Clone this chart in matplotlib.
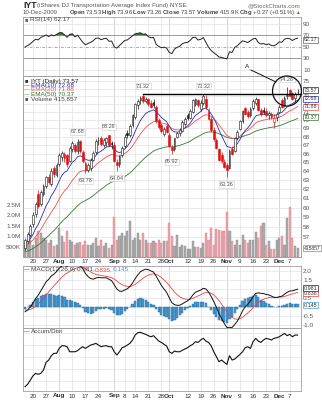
import numpy as np
import matplotlib
matplotlib.use("Agg")
import matplotlib.pyplot as plt
from matplotlib.patches import Ellipse
from matplotlib.lines import Line2D

plt.rcParams['font.family'] = ['Liberation Sans', 'DejaVu Sans']
plt.rcParams['mathtext.fontset'] = 'custom'
plt.rcParams['mathtext.rm'] = 'Liberation Sans'
plt.rcParams['mathtext.bf'] = 'Liberation Sans:bold'
plt.rcParams['mathtext.it'] = 'Liberation Sans:italic'

# daily bars, 15-Jul-2009 .. 10-Dec-2009 (trading days)
opens = [55.9, 56.6, 57.2, 58.3, 59.4, 61.5, 60.4, 61.5, 62.4, 63.4,
         62.6, 64.4, 63.6, 64.8, 65.6, 66.0, 65.8, 65.2, 66.6, 67.0,
         66.3, 67.5, 66.2, 64.9, 64.1, 64.3, 65.3, 66.2, 67.6, 67.8,
         67.0, 67.4, 68.2, 67.3, 67.0, 65.0, 64.8, 65.8, 66.9, 68.5,
         68.2, 69.4, 70.4, 71.9, 72.5, 73.1, 72.4, 72.6, 72.2, 72.3,
         71.6, 70.0, 69.4, 68.3, 69.3, 68.2, 66.8, 66.5, 68.0, 68.4,
         68.7, 69.5, 70.6, 70.3, 71.0, 72.0, 72.5, 71.4, 72.1, 72.7,
         71.2, 70.2, 68.8, 67.6, 66.5, 65.9, 65.0, 64.7, 64.3, 66.6,
         66.3, 67.9, 68.9, 69.9, 71.5, 71.0, 70.6, 71.5, 72.2, 72.6,
         71.3, 71.3, 71.2, 70.6, 70.8, 69.8, 70.4, 71.0, 72.5, 71.9,
         73.0, 73.8, 73.4, 72.8, 73.53]
highs = [56.9, 57.5, 58.3, 59.6, 60.6, 61.9, 61.9, 62.6, 63.5, 63.7,
         64.3, 64.6, 64.9, 66.1, 66.3, 66.2, 66.0, 66.9, 67.5, 67.2,
         67.68, 67.6, 66.4, 65.1, 64.9, 65.5, 66.3, 67.7, 68.0, 68.1,
         67.9, 68.0, 68.26, 67.5, 67.4, 65.4, 65.9, 66.9, 68.3, 68.8,
         69.5, 70.8, 72.2, 72.6, 73.0, 73.32, 72.9, 72.8, 72.5, 72.6,
         71.9, 70.3, 69.7, 69.2, 69.5, 68.4, 67.0, 67.9, 68.6, 69.0,
         70.0, 70.4, 70.9, 71.4, 72.7, 72.8, 72.7, 72.5, 73.32, 73.2,
         71.5, 70.4, 69.2, 67.9, 66.7, 66.2, 65.4, 64.9, 66.5, 66.9,
         68.0, 68.8, 70.0, 71.3, 71.7, 71.3, 71.6, 72.7, 72.9, 72.7,
         71.5, 71.6, 71.5, 71.2, 71.0, 70.8, 71.0, 71.9, 72.8, 73.0,
         74.26, 74.0, 73.5, 73.5, 73.96]
lows = [55.7, 56.4, 57.0, 58.0, 59.0, 60.0, 60.2, 61.3, 62.1, 62.6,
        62.4, 63.4, 63.3, 64.6, 65.2, 65.0, 64.5, 65.0, 66.2, 66.1,
        66.0, 66.1, 64.9, 63.78, 63.9, 64.0, 65.1, 66.0, 67.0, 66.9,
        66.8, 66.9, 66.9, 66.5, 65.0, 64.04, 64.5, 65.6, 66.7, 67.9,
        68.0, 69.2, 70.2, 71.4, 72.0, 72.2, 72.1, 71.8, 71.5, 71.5,
        69.7, 68.9, 68.4, 68.1, 68.4, 66.8, 65.92, 66.3, 67.8, 68.1,
        68.6, 69.3, 70.0, 70.1, 70.9, 71.8, 71.7, 71.2, 71.9, 71.4,
        70.0, 68.6, 67.5, 66.6, 65.2, 64.9, 64.4, 63.36, 64.2, 65.8,
        66.2, 67.6, 68.8, 69.7, 70.6, 70.3, 70.4, 71.3, 71.9, 71.1,
        70.5, 70.8, 70.4, 70.1, 70.2, 69.0, 69.9, 70.9, 71.5, 71.7,
        72.6, 73.0, 72.5, 72.3, 73.26]
closes = [56.7, 57.3, 58.1, 59.3, 60.4, 60.2, 61.7, 62.4, 63.3, 62.8,
          64.0, 63.7, 64.7, 65.9, 66.1, 65.5, 64.8, 66.7, 67.2, 66.3,
          67.4, 66.3, 65.1, 64.1, 64.7, 65.3, 66.1, 67.5, 67.6, 67.1,
          67.6, 67.9, 67.0, 67.1, 65.2, 64.7, 65.7, 66.7, 68.0, 68.2,
          69.3, 70.6, 72.0, 72.4, 72.8, 72.4, 72.7, 72.0, 71.7, 71.9,
          69.9, 69.2, 68.7, 68.9, 68.6, 66.9, 66.4, 67.8, 68.4, 68.8,
          69.8, 70.2, 70.3, 71.1, 72.5, 72.6, 71.9, 72.2, 73.0, 71.7,
          70.1, 68.8, 67.7, 66.7, 65.3, 65.1, 64.5, 64.1, 66.3, 66.0,
          67.9, 68.6, 69.9, 71.1, 70.8, 70.5, 71.4, 72.4, 72.7, 71.3,
          70.8, 71.0, 70.6, 70.9, 70.4, 70.3, 70.8, 71.7, 71.6, 72.8,
          73.2, 73.1, 72.7, 73.30, 73.57]
volumes_k = [600, 690, 830, 600, 930, 1230, 1160, 930, 830, 690,
             830, 550, 600, 1400, 1000, 700, 1260, 830, 700, 600,
             690, 700, 600, 760, 600, 600, 690, 930, 550, 830,
             550, 690, 450, 600, 1940, 830, 1000, 1160, 1000, 1230,
             1750, 830, 930, 1160, 830, 1160, 830, 690, 690, 760,
             690, 830, 690, 760, 760, 1640, 1020, 550, 1070, 480,
             600, 550, 400, 400, 760, 480, 480, 450, 690, 1160,
             830, 1400, 600, 1350, 1300, 1260, 1260, 2180, 1260, 760,
             600, 830, 600, 1070, 830, 690, 830, 830, 1220, 930,
             1500, 1640, 600, 760, 400, 400, 830, 930, 1000, 600,
             1880, 2400, 930, 550, 416]
accum_dist = [0.53, 0.75, 1.08, 1.44, 1.64, 1.56, 1.64, 1.92, 2.56, 2.75,
              3.11, 3.31, 3.31, 3.72, 3.94, 3.94, 3.86, 3.44, 3.44, 3.44,
              3.53, 3.72, 3.86, 3.72, 3.86, 4.00, 4.06, 4.14, 4.00, 3.86,
              3.92, 3.94, 3.86, 3.86, 3.44, 3.17, 3.44, 3.78, 3.86, 4.00,
              4.14, 4.42, 4.83, 5.03, 5.06, 4.97, 4.89, 4.78, 4.69, 4.78,
              4.56, 4.33, 4.22, 4.06, 3.92, 3.44, 3.31, 3.50, 3.44, 3.44,
              3.56, 3.67, 3.78, 3.94, 4.06, 4.28, 4.22, 4.42, 4.56, 4.33,
              4.22, 3.94, 3.44, 3.03, 2.61, 2.75, 2.56, 2.39, 3.11, 2.75,
              2.83, 3.03, 3.22, 3.44, 3.78, 3.86, 3.72, 4.28, 4.56, 4.33,
              4.22, 4.42, 4.56, 4.50, 4.42, 4.56, 4.61, 4.69, 4.83, 4.97,
              4.78, 4.89, 4.69, 4.83, 4.83]

# week / month labels (trading-day index)
tick_pos = [3, 8, 13, 18, 23, 28, 34, 38, 42, 47, 52, 55, 62, 67, 72, 77, 82, 87, 92, 97, 101]
tick_lbl = ['20', '27', 'Aug', '10', '17', '24', 'Sep', '8', '14', '21', '28', 'Oct',
            '12', '19', '26', 'Nov', '9', '16', '23', 'Dec', '7']
months = ['Aug', 'Sep', 'Oct', 'Nov', 'Dec']

# value tags from the chart
last_close, ema10_last, ema20_last, ema50_last = 73.57, 72.68, 71.88, 70.37
rsi_last = 62.17
macd_last, signal_last, hist_last = 0.981, 0.836, 0.145
vol_last = 415857
double_top = 73.32

o = np.array(opens, dtype=float)
h = np.array(highs, dtype=float)
lo = np.array(lows, dtype=float)
c = np.array(closes, dtype=float)
vol = np.array(volumes_k, dtype=float) * 1000.0
ad = np.array(accum_dist, dtype=float)
xs = np.arange(len(c), dtype=float)


def ema(vals, span, prev):
  k = 2.0 / (span + 1)
  out = []
  for v in vals:
    prev = prev + k * (v - prev)
    out.append(prev)
  return np.array(out)


def rsi(vals, n, ag, al):
  out = [100 * ag / (ag + al)]
  for i in range(1, len(vals)):
    d = float(vals[i] - vals[i - 1])
    ag = (ag * (n - 1) + max(d, 0.0)) / n
    al = (al * (n - 1) + max(-d, 0.0)) / n
    out.append(100 * ag / (ag + al))
  return np.array(out)


ema10 = ema(c, 10, 56.3)
ema20 = ema(c, 20, 56.1)
ema50 = ema(c, 50, 55.5)
macd = ema(c, 12, 56.0) - ema(c, 26, 56.35)
signal = ema(macd, 9, -0.15)
hist = macd - signal
rsi14 = rsi(c, 14, 0.45, 0.45)

prev_c = np.concatenate([[c[0] - 0.1], c[:-1]])
down = c < prev_c

fig = plt.figure(figsize=(3.22, 4.0), dpi=100)


def fx(px):
  return px / 322.0


def fy(px):
  return 1 - px / 400.0


L, R = 23, 301
W = fx(R - L)
XL = (-0.82, 105.3)
GRID = '#e2e2e2'
LBL = '#555555'
FS = 4.6


def panel(top, bottom):
  ax = fig.add_axes([fx(L), fy(bottom), W, (bottom - top) / 400.0])
  ax.set_xlim(*XL)
  ax.set_xticks([])
  for s in ax.spines.values():
    s.set_color('#a0a0a0')
    s.set_linewidth(0.6)
  ax.yaxis.tick_right()
  ax.tick_params(axis='y', length=0, pad=1.5, labelsize=FS, labelcolor=LBL)
  return ax


def overlay(top, bottom, ylim):
  ov = fig.add_axes([fx(L), fy(bottom), W, (bottom - top) / 400.0])
  ov.set_xlim(*XL)
  ov.set_ylim(*ylim)
  ov.patch.set_visible(False)
  ov.axis('off')
  return ov


def vgrid(ax):
  for p, t in zip(tick_pos, tick_lbl):
    ax.axvline(p, color='#c8c8c8' if t in months else GRID, lw=0.5, zorder=0)


def xlabels(ypx):
  for p, t in zip(tick_pos, tick_lbl):
    xp = fx(L) + (p - XL[0]) / (XL[1] - XL[0]) * W
    fig.text(xp, fy(ypx), t, ha='center', va='center', fontsize=FS, color='#333333',
             fontweight='bold' if t in months else 'normal')


def tag(ax, yv, txt, ec, size=3.9, z=10):
  ax.text(1.01, yv, txt, transform=ax.get_yaxis_transform(), fontsize=size, color='#333333',
          va='center', ha='left', zorder=z, clip_on=False,
          bbox=dict(boxstyle='square,pad=0.08', fc='white', ec=ec, lw=0.5))


# ---- RSI panel
RSI_LIM = (-0.5, 102)
ax_rsi = panel(17, 76)
ax_rsi.set_ylim(*RSI_LIM)
ax_rsi.set_yticks([10, 30, 50, 70, 90])
vgrid(ax_rsi)
for lv in (10, 90):
  ax_rsi.axhline(lv, color=GRID, lw=0.5, zorder=0)
ax_rsi.axhline(70, color='#8a8a8a', lw=0.6, zorder=1)
ax_rsi.axhline(30, color='#8a8a8a', lw=0.6, zorder=1)
ax_rsi.axhline(50, color='#8a8a8a', lw=0.5, ls=(0, (4, 2, 1, 2)), zorder=1)
tag(ax_rsi, rsi_last, '%.2f' % rsi_last, '#3f7a3f')

# ---- Accum/Dist panel
AD_LIM = (0.17, 5.42)
ax_ad = panel(328, 391)
ax_ad.set_ylim(*AD_LIM)
ax_ad.set_yticks([])
vgrid(ax_ad)
for lv in (1, 2, 3, 4, 5):
  ax_ad.axhline(lv, color=GRID, lw=0.5, zorder=0)

# ---- MACD panel
ax_macd = panel(266, 328)
ax_macd.set_ylim(-1.17, 2.28)
ax_macd.set_yticks([-1.0, -0.5, 0.0, 0.5, 1.0, 1.5, 2.0])
ax_macd.set_yticklabels(['-1.0', '-0.5', '', '0.5', '', '1.5', '2.0'])
vgrid(ax_macd)
for lv in np.arange(-1.0, 2.01, 0.5):
  ax_macd.axhline(lv, color=GRID, lw=0.5, zorder=0)
ax_macd.bar(xs, hist, width=0.85, color='#4a9bd4', edgecolor='#24648f', lw=0.3, zorder=2)
ax_macd.plot(xs, signal, color='#f04040', lw=0.6, zorder=3)
ax_macd.plot(xs, macd, color='#111111', lw=0.7, zorder=4)
tag(ax_macd, signal_last - 0.06, '%.3f' % signal_last, '#f04040', z=9)
tag(ax_macd, macd_last + 0.07, '%.3f' % macd_last, '#222222')
tag(ax_macd, hist_last - 0.05, '%.3f' % hist_last, '#4a9bd4')

# ---- price panel with volume overlay
ax_vol = panel(76, 257)
ax_vol.yaxis.tick_left()
ax_vol.tick_params(axis='y', length=0, pad=1.5, labelsize=FS, labelcolor=LBL)
ax_vol.set_ylim(0, 2.5e6 * 181.0 / 52.0)
ax_vol.set_yticks([5e5, 1e6, 1.5e6, 2e6, 2.5e6])
ax_vol.set_yticklabels(['500K', '1.0M', '1.5M', '2.0M', '2.5M'])
vgrid(ax_vol)

ax_px = panel(76, 257)
ax_px.patch.set_visible(False)
ax_px.set_yscale('log')
ax_px.set_ylim(55.03, 75.66)
px_ticks = list(range(57, 76))
ax_px.yaxis.set_major_locator(matplotlib.ticker.FixedLocator(px_ticks))
ax_px.yaxis.set_major_formatter(matplotlib.ticker.FixedFormatter([str(t) for t in px_ticks]))
ax_px.yaxis.set_minor_locator(matplotlib.ticker.NullLocator())
for t in px_ticks:
  ax_vol.plot([0, 1], [t, t], transform=ax_px.get_yaxis_transform(), color=GRID, lw=0.5, zorder=0)

vcol = np.where(down, '#e9a3ab', '#ababab')
vedge = np.where(down, '#d88a94', '#8e8e8e')
ax_vol.bar(xs, vol, width=0.8, color=vcol, edgecolor=vedge, lw=0.3, zorder=2)

ax_px.plot(xs, ema50, color='#2f7a2f', lw=0.6, zorder=2)
ax_px.plot(xs, ema20, color='#f05050', lw=0.6, zorder=2)
ax_px.plot(xs, ema10, color='#2b2bb0', lw=0.6, zorder=2)
ccol = np.where(down, '#e01010', '#111111')
ax_px.vlines(xs, lo, h, colors=ccol, lw=0.5, zorder=3)
body_lo = np.minimum(o, c)
body_h = np.maximum(np.abs(c - o), 0.04)
face = [cc if oo > cl else 'white' for cc, oo, cl in zip(ccol, o, c)]
ax_px.bar(xs, body_h, bottom=body_lo, width=0.68, color=face, edgecolor=ccol, lw=0.4, zorder=4)

# peak / trough value labels
for idx, val, where in [(20, 67.68, 'up'), (23, 63.78, 'dn'), (32, 68.26, 'up'), (35, 64.04, 'dn'),
                        (45, 73.32, 'up'), (56, 65.92, 'dn'), (68, 73.32, 'up'), (77, 63.36, 'dn'),
                        (100, 74.26, 'up')]:
  yv = val * (1.009 if where == 'up' else 0.991)
  ax_px.text(idx, yv, '%.2f' % val, fontsize=FS - 0.6, color='#555555', ha='center',
             va='bottom' if where == 'up' else 'top', zorder=6,
             bbox=dict(boxstyle='square,pad=0.1', fc='white', ec='#c8c8c8', lw=0.4))

ax_px.plot([45, XL[1]], [double_top, double_top], color='black', lw=1.0, zorder=5, clip_on=False)

tag(ax_px, last_close + 0.2, '%.2f' % last_close, '#222222')
tag(ax_px, ema10_last, '%.2f' % ema10_last, '#2b2bb0')
tag(ax_px, ema20_last - 0.2, '%.2f' % ema20_last, '#f05050')
tag(ax_px, ema50_last, '%.2f' % ema50_last, '#2f7a2f')
tag(ax_vol, vol_last, '%d' % vol_last, '#888888', size=3.6)

# hand-drawn annotation (circle around the last days, pointer "A")
ax_px.add_patch(Ellipse((0.9496, 0.917), 0.104, 0.166, transform=ax_px.transAxes,
                        fill=False, ec='#111111', lw=0.9, clip_on=False, zorder=7))
ax_px.plot([0.820, 0.910], [1.033, 0.967], transform=ax_px.transAxes, color='#111111',
           lw=0.7, clip_on=False, zorder=7)
ax_px.text(0.806, 1.05, 'A', transform=ax_px.transAxes, fontsize=FS, ha='center', va='center',
           color='#222222', clip_on=False)

# ---- RSI and Accum/Dist lines on their own transparent layers, on top
ov_rsi = overlay(17, 76, RSI_LIM)
ov_rsi.fill_between(xs, rsi14, 70, where=rsi14 > 70, interpolate=True, color='#3f7a3f', lw=0)
ov_rsi.plot(xs, rsi14, color='#222222', lw=0.7)
ov_ad = overlay(328, 391, AD_LIM)
ov_ad.plot(xs, ad, color='#111111', lw=0.8)

# ---- legends
fig.text(fx(24.5), fy(20), '\u25a0', fontsize=4.0, va='center', color='#3f7a3f')
fig.text(fx(29.5), fy(20), 'RSI(14) %.2f' % rsi_last, fontsize=FS, va='center', color='#444444')
leg = [('IYT (Daily) %.2f' % last_close, '#222222', '\u25a0', '#333333'),
       ('EMA(10) %.2f' % ema10_last, '#2b2bb0', '\u2014', '#2b2bb0'),
       ('EMA(20) %.2f' % ema20_last, '#f05050', '\u2014', '#f05050'),
       ('EMA(50) %.2f' % ema50_last, '#2f7a2f', '\u2014', '#2f7a2f'),
       ('Volume 415,857', '#444444', '\u25a0', '#555555')]
for k, (txt, tc, sym, sc) in enumerate(leg):
  yy = 81 + 4.5 * k
  fig.text(fx(24.5), fy(yy), sym, fontsize=4.0, va='center', color=sc)
  fig.text(fx(31), fy(yy), txt, fontsize=FS, va='center', color=tc)

fig.text(fx(24.5), fy(269.5), '\u2014', fontsize=4.0, va='center', color='#222222')
fig.text(fx(31), fy(269.5), 'MACD(12,26,9) %.3f,' % macd_last, fontsize=FS, va='center', color='#444444')
fig.text(fx(95), fy(269.5), '%.3f,' % signal_last, fontsize=FS, va='center', color='#f04040')
fig.text(fx(113), fy(269.5), '%.3f' % hist_last, fontsize=FS, va='center', color='#4a9bd4')
fig.text(fx(24.5), fy(331.5), '\u2014', fontsize=4.0, va='center', color='#222222')
fig.text(fx(31), fy(331.5), 'Accum/Dist', fontsize=FS, va='center', color='#444444')

# ---- header
fig.text(fx(23), fy(5.5), 'IYT', fontsize=6.2, fontweight='bold', va='center', color='#222222')
fig.text(fx(37), fy(5.5), '(iShares DJ Transportation Average Index Fund) NYSE', fontsize=4.4,
         va='center', color='#555555')
fig.text(fx(300), fy(5.5), '@StockCharts.com', fontsize=4.4, va='center', ha='right', color='#666666')
fig.text(fx(23), fy(12.5), '10-Dec-2009', fontsize=4.4, va='center', color='#555555')
fig.text(fx(69), fy(12.5),
         r'$\mathbf{Open}$ 73.53 $\mathbf{High}$ 73.96 $\mathbf{Low}$ 73.26 $\mathbf{Close}$ 73.57 '
         r'$\mathbf{Volume}$ 415.9K $\mathbf{Chg}$ +0.27 (+0.51%)',
         fontsize=4.2, va='center', color='#444444')
fig.text(fx(300), fy(12.5), '\u25b2', fontsize=3.4, va='center', ha='right', color='#2e8b2e')

xlabels(261.5)
xlabels(396)


# ---- safety check: if a line did not render, draw it again through the same axes transform
def dark_pixels(y0, y1, x0, x1):
  fig.canvas.draw()
  img = np.asarray(fig.canvas.buffer_rgba())[:, :, :3].astype(int)
  sub = img[y0:y1, x0:x1]
  return int((sub.max(axis=2) < 90).sum())


def redraw_on_figure(ax, xv, yv, **kw):
  pts = ax.transData.transform(np.column_stack([xv, yv]))
  fp = fig.transFigure.inverted().transform(pts)
  fig.add_artist(Line2D(fp[:, 0], fp[:, 1], transform=fig.transFigure, **kw))


if dark_pixels(24, 74, 80, 240) < 20:
  redraw_on_figure(ov_rsi, xs, rsi14, color='#222222', lw=0.7, zorder=20)
if dark_pixels(336, 389, 80, 240) < 20:
  redraw_on_figure(ov_ad, xs, ad, color='#111111', lw=0.8, zorder=20)

fig.savefig('out.png', dpi=100)
